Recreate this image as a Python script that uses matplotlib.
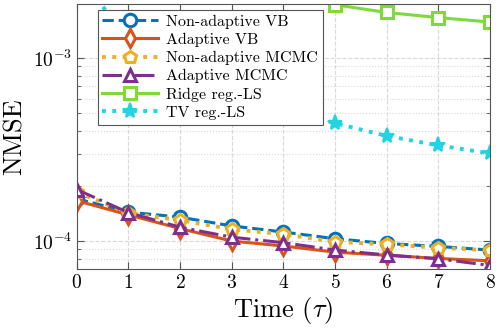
import numpy as np
import matplotlib
matplotlib.use("Agg")
import matplotlib.pyplot as plt

plt.rcParams['font.family'] = ['cmr10', 'DejaVu Serif']
plt.rcParams['mathtext.fontset'] = 'cm'
plt.rcParams['axes.formatter.use_mathtext'] = True

# Data
t = [0, 1, 2, 3, 4, 5, 6, 7, 8]
nonadapt_vb = [1.70e-4, 1.44e-4, 1.35e-4, 1.21e-4, 1.12e-4, 1.03e-4, 9.7e-5, 9.35e-5, 8.93e-5]
adapt_vb = [1.66e-4, 1.39e-4, 1.17e-4, 1.00e-4, 9.4e-5, 8.7e-5, 8.36e-5, 8.04e-5, 7.8e-5]
nonadapt_mcmc = [1.85e-4, 1.42e-4, 1.30e-4, 1.16e-4, 1.09e-4, 9.9e-5, 9.6e-5, 9.2e-5, 8.9e-5]
adapt_mcmc = [1.91e-4, 1.43e-4, 1.19e-4, 1.05e-4, 9.8e-5, 8.93e-5, 8.4e-5, 8.0e-5, 7.36e-5]
ridge_ls = [4.5e-3, 3.5e-3, 2.9e-3, 2.5e-3, 2.25e-3, 1.95e-3, 1.77e-3, 1.66e-3, 1.57e-3]
tv_ls = [2.8e-3, 1.3e-3, 9.0e-4, 6.8e-4, 5.3e-4, 4.4e-4, 3.75e-4, 3.33e-4, 3.01e-4]

fig = plt.figure(figsize=(4.99, 3.31), dpi=100)
ax = fig.add_axes([0.154, 0.187, 0.828, 0.801])

lw = 2.2
ms = 9
ax.plot(t, nonadapt_vb, '--', color='#0072BD', lw=lw, marker='o', ms=ms,
        mfc='white', mew=2.2, label='Non-adaptive VB')
ax.plot(t, adapt_vb, '-', color='#D95319', lw=lw, marker='d', ms=ms,
        mfc='white', mew=2.2, label='Adaptive VB')
ax.plot(t, nonadapt_mcmc, ':', color='#EDB120', lw=lw + 0.6, marker='p', ms=ms,
        mfc='white', mew=2.2, label='Non-adaptive MCMC')
ax.plot(t, adapt_mcmc, '-.', color='#7E2F8E', lw=lw, marker='^', ms=ms,
        mfc='white', mew=2.2, label='Adaptive MCMC')
ax.plot(t, ridge_ls, '-', color='#7ED93A', lw=lw, marker='s', ms=ms,
        mfc='white', mew=2.2, label='Ridge reg.-LS')
ax.plot(t, tv_ls, ':', color='#22D3E3', lw=lw + 0.6, marker='*', ms=ms + 2,
        mew=1.5, label='TV reg.-LS')

ax.set_yscale('log')
ax.set_xlim(0, 8)
ax.set_ylim(7.03e-5, 1.97e-3)
ax.set_xticks(t)

ax.grid(True, which='major', ls='--', color='#d8d8d8', lw=0.8)
ax.grid(True, which='minor', axis='y', ls=':', color='#d8d8d8', lw=0.8)
ax.set_axisbelow(True)

ax.tick_params(which='both', direction='in', top=True, right=True,
               color='#555555', labelsize=14)
ax.tick_params(which='major', length=5)
ax.tick_params(which='minor', length=3)
for s in ax.spines.values():
    s.set_color('#555555')

ax.set_xlabel(r'Time $(\tau)$', fontsize=19, labelpad=2)
ax.set_ylabel('NMSE', fontsize=19, labelpad=4)

leg = ax.legend(loc='upper left', bbox_to_anchor=(0.05, 0.978), borderaxespad=0,
                fontsize=11.5, fancybox=False, framealpha=1, edgecolor='#555555',
                handlelength=3.5, labelspacing=0.25, borderpad=0.3, handletextpad=0.5)
leg.get_frame().set_linewidth(0.8)

fig.savefig('out.png', dpi=100)
